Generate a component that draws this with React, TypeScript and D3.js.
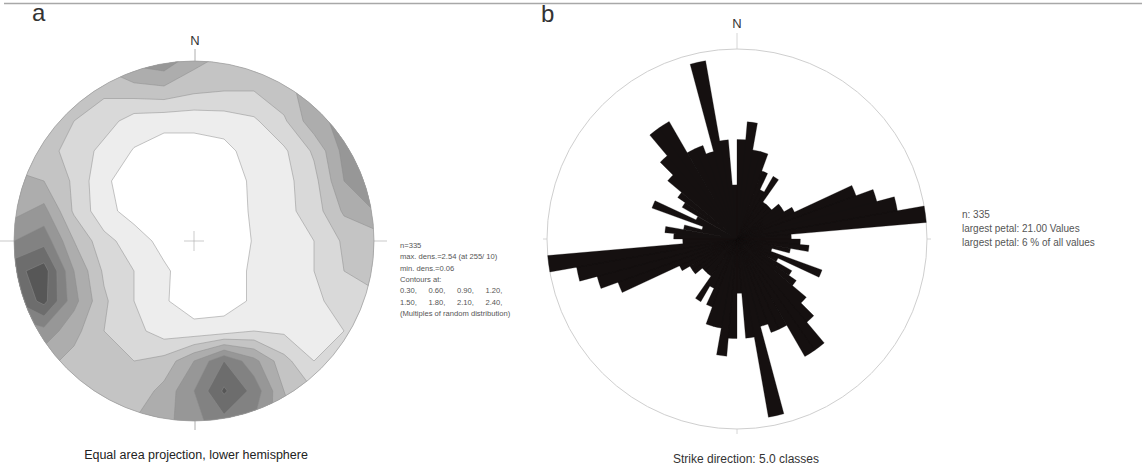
import React from "react";
import * as d3 from "d3";

// ---------- Panel a: density grid (multiples of random distribution), 13 x 13 ----------
const GRID_N = 13;
const densityRows: number[][] = [
  [1.0, 1.0, 1.1, 1.3, 1.6, 1.7, 1.3, 1.1, 1.0, 1.1, 1.3, 1.5, 1.5],
  [1.0, 1.0, 0.95, 0.95, 1.05, 1.1, 0.95, 0.9, 0.9, 1.1, 1.35, 1.5, 1.5],
  [1.0, 1.0, 0.9, 0.75, 0.45, 0.4, 0.4, 0.45, 0.55, 0.85, 1.4, 1.6, 1.6],
  [1.0, 1.0, 0.8, 0.5, 0.28, 0.15, 0.15, 0.2, 0.45, 0.55, 0.95, 1.6, 1.7],
  [1.3, 1.2, 0.85, 0.35, 0.15, 0.1, 0.1, 0.15, 0.35, 0.5, 0.8, 1.5, 1.7],
  [1.4, 1.6, 0.85, 0.4, 0.18, 0.1, 0.1, 0.1, 0.35, 0.5, 0.75, 1.25, 1.5],
  [1.8, 2.0, 1.2, 0.7, 0.45, 0.2, 0.1, 0.1, 0.32, 0.45, 0.6, 0.95, 1.0],
  [2.3, 2.55, 1.5, 0.85, 0.6, 0.35, 0.12, 0.15, 0.35, 0.45, 0.6, 0.9, 1.05],
  [2.1, 2.5, 1.6, 0.95, 0.6, 0.33, 0.15, 0.15, 0.35, 0.45, 0.55, 0.7, 0.8],
  [1.6, 1.7, 1.3, 0.9, 0.7, 0.45, 0.4, 0.45, 0.6, 0.55, 0.5, 0.6, 0.7],
  [1.3, 1.3, 1.1, 0.9, 0.9, 1.0, 1.5, 2.1, 1.6, 1.0, 0.6, 0.6, 0.6],
  [1.3, 1.2, 1.1, 1.0, 1.0, 1.3, 1.8, 2.45, 2.0, 1.2, 0.9, 0.7, 0.6],
  [1.2, 1.2, 1.1, 1.1, 1.2, 1.4, 1.7, 2.0, 1.8, 1.3, 1.0, 0.8, 0.7],
];
const contourLevels = [0.3, 0.6, 0.9, 1.2, 1.5, 1.8, 2.1, 2.4];
const contourFills = ["#ededed", "#d9d9d9", "#c4c4c4", "#adadad", "#979797", "#828282", "#6d6d6d", "#575757"];

const legendA = [
  "n=335",
  "max. dens.=2.54 (at 255/ 10)",
  "min. dens.=0.06",
  "Contours at:",
];
const legendContourRows = [
  ["0.30,", "0.60,", "0.90,", "1.20,"],
  ["1.50,", "1.80,", "2.10,", "2.40,"],
];
const legendAFoot = "(Multiples of random distribution)";

// ---------- Panel b: rose diagram, 5 degree classes 0-180 (mirrored) ----------
const petalStarts = d3.range(0, 180, 5);
const petalCounts = [
  11, 13, 10, 10, 8, 6, 8, 5, 5, 5, 6, 6, 7, 14, 16, 18, 21, 6,
  7, 8, 6, 4, 10, 5, 7, 8, 10, 12, 15, 15, 11, 11, 10, 20, 11, 6,
];
const legendB = ["n: 335", "largest petal: 21.00 Values", "largest petal: 6 % of all values"];

const FONT = "'Liberation Sans', Arial, Helvetica, sans-serif";

export default function App() {
  const W = 1144;
  const H = 466;
  const st = { cx: 194, cy: 241, r: 180 };
  const rose = { cx: 737, cy: 239, r: 190 };

  const values = densityRows.flat();
  const contours = d3.contours().size([GRID_N, GRID_N]).thresholds(contourLevels)(values);
  const gx = d3.scaleLinear().domain([0, GRID_N - 1]).range([st.cx - st.r, st.cx + st.r]);
  const gy = d3.scaleLinear().domain([0, GRID_N - 1]).range([st.cy - st.r, st.cy + st.r]);
  const step = gx(1) - gx(0);
  const proj = d3.geoIdentity().scale(step).translate([gx(0) - step / 2, gy(0) - step / 2]);
  const path = d3.geoPath(proj);

  const rScale = d3.scaleLinear().domain([0, 21]).range([0, rose.r]);
  const arc = d3.arc<any>();
  const rad = (deg: number) => (deg * Math.PI) / 180;
  const petalPaths: string[] = [];
  petalStarts.forEach((s, i) => {
    [s, s + 180].forEach((a) => {
      petalPaths.push(
        arc({ innerRadius: 0, outerRadius: rScale(petalCounts[i]), startAngle: rad(a), endAngle: rad(a + 5) }) as string
      );
    });
  });
  const roseD = petalPaths.join(" ");

  return (
    <svg width={W} height={H} style={{ position: "absolute", left: 0, top: 0, display: "block", background: "#fff" }}>
      <line x1={4} x2={1142} y1={3.5} y2={3.5} stroke="#a8a8a8" strokeWidth={1.5} />
      <text x={32} y={21} fontFamily={FONT} fontSize={24} fill="#333">a</text>
      <text x={541} y={22} fontFamily={FONT} fontSize={24} fill="#333">b</text>

      {/* Panel a */}
      <defs>
        <clipPath id="stClip">
          <circle cx={st.cx} cy={st.cy} r={st.r} />
        </clipPath>
      </defs>
      <text x={st.cx + 1} y={45} textAnchor="middle" fontFamily={FONT} fontSize={13} fill="#333">N</text>
      <line x1={st.cx + 1} x2={st.cx + 1} y1={st.cy - st.r - 12} y2={st.cy - st.r} stroke="#999" strokeWidth={0.8} />
      <line x1={st.cx - st.r - 15} x2={st.cx - st.r} y1={st.cy} y2={st.cy} stroke="#bbb" strokeWidth={0.8} />
      <line x1={st.cx + st.r} x2={st.cx + st.r + 13} y1={st.cy} y2={st.cy} stroke="#bbb" strokeWidth={0.8} />
      <line x1={st.cx + 1} x2={st.cx + 1} y1={st.cy + st.r} y2={st.cy + st.r + 9} stroke="#999" strokeWidth={0.8} />
      <circle cx={st.cx} cy={st.cy} r={st.r} fill="#fff" />
      <g clipPath="url(#stClip)">
        {contours.map((c, i) => (
          <path key={i} d={path(c as any) || ""} fill={contourFills[i]} stroke="#8c8c8c" strokeWidth={0.5} />
        ))}
      </g>
      <circle cx={st.cx} cy={st.cy} r={st.r} fill="none" stroke="#9a9a9a" strokeWidth={0.7} />
      <line x1={st.cx - 10} x2={st.cx + 10} y1={st.cy} y2={st.cy} stroke="#aaa" strokeWidth={0.6} />
      <line x1={st.cx} x2={st.cx} y1={st.cy - 10} y2={st.cy + 10} stroke="#aaa" strokeWidth={0.6} />
      <text x={st.cx + 2} y={459} textAnchor="middle" fontFamily={FONT} fontSize={12.5} fill="#222">
        Equal area projection, lower hemisphere
      </text>

      <g fontFamily={FONT} fontSize={7.6} fill="#555">
        {legendA.map((t, i) => (
          <text key={i} x={400} y={248 + i * 11.3}>{t}</text>
        ))}
        {legendContourRows.map((row, ri) =>
          row.map((t, ci) => (
            <text key={ri + "-" + ci} x={400 + ci * 28.5} y={293.2 + ri * 11.3}>{t}</text>
          ))
        )}
        <text x={400} y={316}>{legendAFoot}</text>
      </g>

      {/* Panel b */}
      <text x={rose.cx} y={28} textAnchor="middle" fontFamily={FONT} fontSize={13} fill="#333">N</text>
      <line x1={rose.cx} x2={rose.cx} y1={rose.cy - rose.r - 16} y2={rose.cy - rose.r} stroke="#ccc" strokeWidth={0.8} />
      <line x1={rose.cx + rose.r} x2={rose.cx + rose.r + 4} y1={rose.cy} y2={rose.cy} stroke="#ccc" strokeWidth={0.8} />
      <line x1={rose.cx - rose.r - 4} x2={rose.cx - rose.r} y1={rose.cy} y2={rose.cy} stroke="#ccc" strokeWidth={0.8} />
      <line x1={rose.cx} x2={rose.cx} y1={rose.cy + rose.r} y2={rose.cy + rose.r + 5} stroke="#ccc" strokeWidth={0.8} />
      <circle cx={rose.cx} cy={rose.cy} r={rose.r} fill="none" stroke="#cfcfcf" strokeWidth={1} />
      <g transform={`translate(${rose.cx},${rose.cy})`}>
        <path d={roseD} fill="#151010" stroke="#151010" strokeWidth={0.3} strokeLinejoin="miter" />
      </g>
      <text x={746} y={463} textAnchor="middle" fontFamily={FONT} fontSize={12} fill="#333">
        Strike direction: 5.0 classes
      </text>
      <g fontFamily={FONT} fontSize={10} fill="#555">
        {legendB.map((t, i) => (
          <text key={i} x={962} y={218 + i * 14}>{t}</text>
        ))}
      </g>
    </svg>
  );
}
